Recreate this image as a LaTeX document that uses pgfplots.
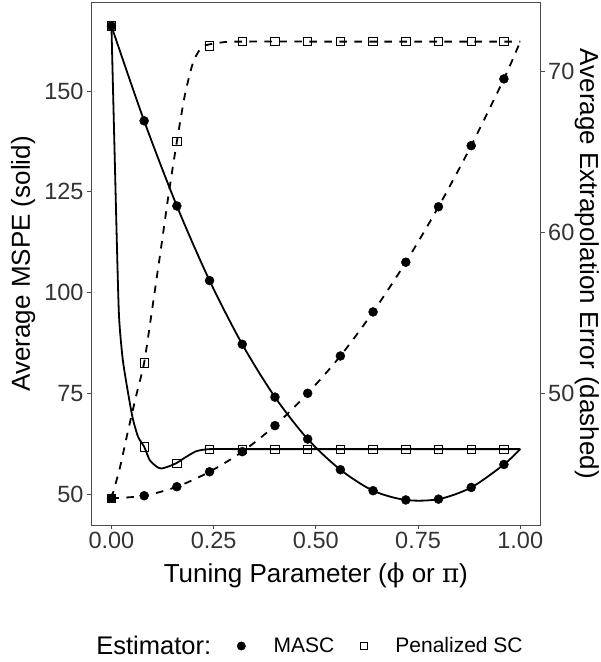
\documentclass[border=0pt]{standalone}
\usepackage{fontspec}
\setmainfont{Liberation Sans}
\newfontfamily\grk{DejaVu Serif}
\usepackage{pgfplots}
\pgfplotsset{compat=1.18}
\definecolor{frame}{gray}{0.3}
\begin{document}
\begin{tikzpicture}[x=1pt,y=1pt]
\path[use as bounding box] (0,0) rectangle (601,662);
\begin{axis}[
  at={(91pt,137pt)}, anchor=south west,
  scale only axis, width=449.7pt, height=522.3pt,
  xmin=-0.05, xmax=1.05, ymin=42.39, ymax=171.9,
  xtick={0,0.25,0.5,0.75,1}, xticklabels={0.00,0.25,0.50,0.75,1.00},
  ytick={50,75,100,125,150},
  xtick pos=bottom, ytick pos=left,
  tick align=outside, major tick length=4pt,
  every tick/.style={frame, line width=0.9pt},
  axis line style={frame, line width=0.9pt},
  tick label style={font=\fontsize{23.5}{23.5}\selectfont, text=black!80},
  /pgf/number format/assume math mode=true,
  xlabel={Tuning Parameter ({\grk ϕ} or {\grk π})},
  ylabel={Average MSPE (solid)},
  label style={font=\fontsize{26}{26}\selectfont},
  xlabel style={at={(axis description cs:0.5,-0.0957)}, anchor=center},
  ylabel style={at={(axis description cs:-0.151,0.5)}, anchor=center},
  legend style={at={(axis description cs:0.457,-0.2317)}, anchor=center, draw=none, fill=none,
    legend columns=3, font=\fontsize{21}{21}\selectfont,
    /tikz/every even column/.append style={column sep=24pt},
    /tikz/every odd column/.append style={column sep=26pt}},
]
\addlegendimage{empty legend}\addlegendentry{\fontsize{25.5}{25.5}\selectfont Estimator:}
\addlegendimage{only marks, mark=*, mark size=4.2pt, black}\addlegendentry{MASC}
\addlegendimage{only marks, mark=square, mark size=3.6pt, black, line width=0.8pt}\addlegendentry{Penalized SC}
% MASC solid line
\addplot[forget plot, black, line width=1.8pt, smooth] coordinates {
(0,166.1)(0.08,142.6)(0.16,121.5)(0.24,103.0)(0.32,87.2)(0.40,74.1)(0.48,63.7)
(0.56,56.1)(0.64,50.9)(0.72,48.6)(0.80,48.8)(0.88,51.7)(0.96,57.4)(1.0,61.2)};
% Penalized SC solid line
\addplot[forget plot, black, line width=1.8pt, smooth, tension=0.4] coordinates {
(0,166.1)(0.0068,138.5)(0.0137,110.6)(0.0186,94.0)(0.027,84.0)(0.0367,77.5)(0.0513,69.2)
(0.065,64.3)(0.08,61.8)(0.0936,58.5)(0.11,56.9)(0.122,56.4)(0.1425,57.0)(0.16,57.8)
(0.183,59.3)(0.208,60.7)(0.24,61.2)(0.32,61.2)(0.48,61.2)(0.64,61.2)(0.80,61.2)(1.0,61.2)};
% markers
\addplot[forget plot, only marks, mark=*, mark size=4.5pt, black] coordinates {
(0,166.1)(0.08,142.6)(0.16,121.5)(0.24,103.0)(0.32,87.2)(0.40,74.1)(0.48,63.7)
(0.56,56.1)(0.64,50.9)(0.72,48.6)(0.80,48.8)(0.88,51.7)(0.96,57.4)};
\addplot[forget plot, only marks, mark=square, mark size=4.2pt, black, line width=0.8pt] coordinates {
(0,166.1)(0.08,61.8)(0.16,57.7)(0.24,61.2)(0.32,61.2)(0.40,61.2)(0.48,61.2)
(0.56,61.2)(0.64,61.2)(0.72,61.2)(0.80,61.2)(0.88,61.2)(0.96,61.2)};
\end{axis}
\begin{axis}[
  at={(91pt,137pt)}, anchor=south west,
  scale only axis, width=449.7pt, height=522.3pt,
  xmin=-0.05, xmax=1.05, ymin=41.81, ymax=74.29,
  axis x line=none, axis y line*=right,
  ytick={50,60,70},
  tick align=outside, major tick length=4pt,
  every tick/.style={frame, line width=0.9pt},
  axis line style={frame, line width=0.9pt},
  tick label style={font=\fontsize{23.5}{23.5}\selectfont, text=black!80},
  /pgf/number format/assume math mode=true,
  ylabel={Average Extrapolation Error (dashed)},
  label style={font=\fontsize{26}{26}\selectfont},
  ylabel style={rotate=180, inner sep=0pt, at={(axis description cs:1.1024,0.5)}, anchor=center},
]
% MASC dashed
\addplot[black, line width=1.8pt, smooth, dash pattern=on 7.5pt off 7.5pt] coordinates {
(0,43.47)(0.08,43.63)(0.16,44.19)(0.24,45.12)(0.32,46.37)(0.40,47.99)(0.48,50.0)
(0.56,52.32)(0.64,55.06)(0.72,58.15)(0.80,61.6)(0.88,65.4)(0.96,69.55)(1.0,71.87)};
% Penalized dashed
\addplot[black, line width=1.8pt, smooth, tension=0.4, dash pattern=on 7.5pt off 7.5pt] coordinates {
(0,43.47)(0.02,45.3)(0.04,47.6)(0.06,49.8)(0.08,51.9)(0.10,55.3)(0.12,58.8)(0.14,62.4)
(0.16,65.65)(0.18,68.6)(0.20,70.6)(0.22,71.5)(0.24,71.7)(0.28,71.85)(0.32,71.87)(0.6,71.87)(1.0,71.87)};
\addplot[only marks, mark=*, mark size=4.5pt, black] coordinates {
(0,43.47)(0.08,43.63)(0.16,44.19)(0.24,45.12)(0.32,46.37)(0.40,47.99)(0.48,50.0)
(0.56,52.32)(0.64,55.06)(0.72,58.15)(0.80,61.6)(0.88,65.4)(0.96,69.55)};
\addplot[only marks, mark=square, mark size=4.2pt, black, line width=0.8pt] coordinates {
(0,43.47)(0.08,51.9)(0.16,65.65)(0.24,71.6)(0.32,71.87)(0.40,71.87)(0.48,71.87)
(0.56,71.87)(0.64,71.87)(0.72,71.87)(0.80,71.87)(0.88,71.87)(0.96,71.87)};
\end{axis}
\end{tikzpicture}
\end{document}
